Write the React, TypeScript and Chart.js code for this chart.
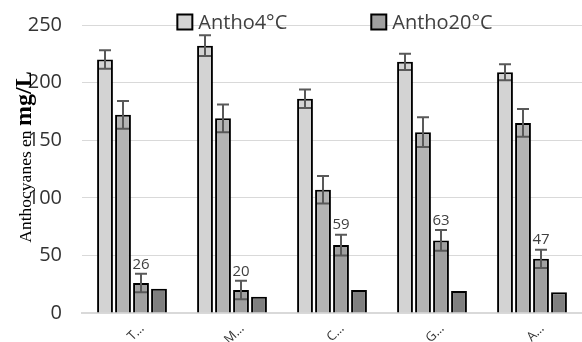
import React, { useEffect, useRef } from "react";
import { Chart, registerables } from "chart.js";

Chart.register(...registerables);

const categories = ["T…", "M…", "C…", "G…", "A…"];
const seriesNames = ["Antho4°C", "", "Antho20°C", ""];
const series1 = [220, 232, 186, 218, 209];
const series1Err = [8, 9, 8, 7, 7];
const series2 = [172, 169, 107, 157, 165];
const series2Err = [12, 12, 12, 13, 12];
const series3 = [26, 20, 59, 63, 47];
const series3Err = [8, 8, 9, 9, 8];
const series4 = [21, 14, 20, 19, 18];
const yTicks = [0, 50, 100, 150, 200, 250];

const colors = ["#d3d3d3", "#b4b4b4", "#a0a0a0", "#7f7f7f"];

export default function App() {
  const ref = useRef<HTMLCanvasElement | null>(null);

  useEffect(() => {
    if (!ref.current) return;
    const values = [series1, series2, series3, series4];
    const errs: (number[] | null)[] = [series1Err, series2Err, series3Err, null];

    const errorBars = {
      id: "errorBars",
      afterDatasetsDraw(chart: any) {
        const ctx = chart.ctx;
        const ys = chart.scales.y;
        ctx.save();
        values.forEach((vals, di) => {
          const e = errs[di];
          if (!e) return;
          const meta = chart.getDatasetMeta(di);
          meta.data.forEach((bar: any, i: number) => {
            const top = ys.getPixelForValue(vals[i] + e[i]);
            const bot = ys.getPixelForValue(vals[i] - e[i]);
            ctx.strokeStyle = "#595959";
            ctx.lineWidth = 2;
            ctx.beginPath();
            ctx.moveTo(bar.x, top);
            ctx.lineTo(bar.x, bot);
            ctx.moveTo(bar.x - 6, top);
            ctx.lineTo(bar.x + 6, top);
            ctx.moveTo(bar.x - 6, bot);
            ctx.lineTo(bar.x + 6, bot);
            ctx.stroke();
            if (di === 2) {
              ctx.fillStyle = "#404040";
              ctx.font = "15px 'Open Sans'";
              ctx.textAlign = "center";
              ctx.textBaseline = "bottom";
              ctx.fillText(String(vals[i]), bar.x, top - 2);
            }
          });
        });
        ctx.restore();
      },
    };

    const legendAndTitle = {
      id: "legendAndTitle",
      afterDraw(chart: any) {
        const ctx = chart.ctx;
        const area = chart.chartArea;
        ctx.save();
        // legend
        ctx.font = "20px 'Open Sans'";
        const items = seriesNames
          .map((n, i) => ({ n, i }))
          .filter((it) => it.n !== "");
        const box = 15;
        const gap = 8;
        const spacing = 82;
        const widths = items.map((it) => ctx.measureText(it.n).width);
        const total =
          widths.reduce((a, b) => a + b, 0) +
          items.length * (box + gap) +
          spacing * (items.length - 1);
        let x = (area.left + area.right) / 2 - total / 2 + 4;
        const cy = 22;
        items.forEach((it, k) => {
          ctx.fillStyle = colors[it.i];
          ctx.fillRect(x, cy - box / 2, box, box);
          ctx.strokeStyle = "#000";
          ctx.lineWidth = 2;
          ctx.strokeRect(x, cy - box / 2, box, box);
          ctx.fillStyle = "#404040";
          ctx.textAlign = "left";
          ctx.textBaseline = "middle";
          ctx.fillText(it.n, x + box + gap - 2, cy + 1);
          x += box + gap + widths[k] + spacing;
        });
        // y title
        ctx.translate(31, (area.top + area.bottom) / 2 - 12);
        ctx.rotate(-Math.PI / 2);
        ctx.fillStyle = "#000";
        ctx.textBaseline = "alphabetic";
        ctx.textAlign = "left";
        const p1 = "Anthocyanes en ";
        const p2 = "mg/L";
        const f1 = "17.5px 'Liberation Serif'";
        const f2 = "bold 24px 'Liberation Serif'";
        ctx.font = f1;
        const w1 = ctx.measureText(p1).width;
        ctx.font = f2;
        const w2 = ctx.measureText(p2).width;
        const start = -(w1 + w2) / 2;
        ctx.font = f1;
        ctx.fillText(p1, start, 0);
        ctx.font = f2;
        ctx.fillText(p2, start + w1, 0);
        ctx.restore();
      },
    };

    const chart = new Chart(ref.current, {
      type: "bar",
      data: {
        labels: categories,
        datasets: values.map((v, i) => ({
          label: seriesNames[i] || `s${i + 1}`,
          data: v,
          backgroundColor: colors[i],
          borderColor: "#000",
          borderWidth: 2,
          categoryPercentage: 0.72,
          barPercentage: 0.88,
        })),
      },
      options: {
        responsive: false,
        animation: false,
        layout: { padding: { top: 25, right: 0, left: 0, bottom: 0 } },
        plugins: {
          legend: { display: false },
          tooltip: { enabled: false },
        },
        scales: {
          y: {
            min: 0,
            max: 250,
            afterBuildTicks: (s: any) => {
              s.ticks = yTicks.map((v) => ({ value: v }));
            },
            afterFit: (s: any) => {
              s.width = 82;
              s.paddingTop = 0;
              s.paddingBottom = 0;
            },
            ticks: {
              color: "#333333",
              font: { family: "'Open Sans'", size: 20 },
              padding: 20,
            },
            grid: { color: "#d9d9d9", lineWidth: 1, drawTicks: false },
            border: { display: false },
          },
          x: {
            afterFit: (s: any) => {
              s.height = 29;
              s.paddingLeft = 0;
              s.paddingRight = 0;
            },
            ticks: {
              color: "#333333",
              font: { family: "'Open Sans'", size: 13 },
              minRotation: 45,
              maxRotation: 45,
              padding: 0,
              labelOffset: 10,
            },
            grid: { display: false },
            border: { display: true, color: "#d9d9d9", width: 2 },
          },
        },
      },
      plugins: [errorBars, legendAndTitle],
    });
    return () => chart.destroy();
  }, []);

  return (
    <div style={{ position: "absolute", left: 0, top: 0, width: 582, height: 342, background: "#fff" }}>
      <canvas ref={ref} width={582} height={342} />
    </div>
  );
}
